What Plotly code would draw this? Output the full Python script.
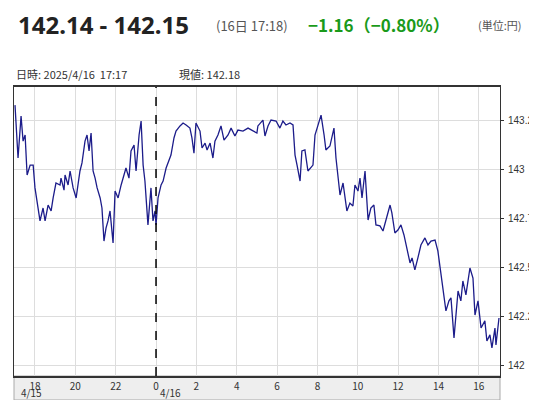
import plotly.graph_objects as go

# hours counted from 4/15 00:00 (24 = 4/16 0:00)
hours = [17.01, 17.16, 17.31, 17.41, 17.51, 17.61, 17.76, 17.91, 18.00, 18.15, 18.25, 18.40, 18.50, 18.65,
         18.80, 18.90, 19.04, 19.24, 19.29, 19.44, 19.49, 19.64, 19.74, 19.89, 20.04, 20.23, 20.33, 20.48,
         20.58, 20.68, 20.78, 20.88, 20.98, 21.08, 21.23, 21.32, 21.42, 21.52, 21.62, 21.72, 21.77, 21.87,
         21.97, 22.12, 22.27, 22.41, 22.51, 22.66, 22.76, 22.91, 23.01, 23.16, 23.26, 23.36, 23.45, 23.60,
         23.75, 23.85, 23.95, 24.00, 24.10, 24.25, 24.35, 24.50, 24.64, 24.74, 24.89, 24.99, 25.19, 25.34,
         25.49, 25.68, 25.78, 25.88, 25.98, 26.18, 26.28, 26.43, 26.53, 26.68, 26.82, 26.92, 27.07, 27.22,
         27.37, 27.57, 27.72, 27.91, 28.06, 28.31, 28.56, 28.81, 29.00, 29.05, 29.30, 29.40, 29.55, 29.70,
         29.95, 30.14, 30.29, 30.44, 30.64, 30.79, 30.89, 30.99, 31.14, 31.23, 31.38, 31.53, 31.68, 31.78,
         31.88, 32.03, 32.18, 32.33, 32.42, 32.62, 32.82, 32.92, 33.02, 33.12, 33.27, 33.37, 33.46, 33.61,
         33.76, 33.86, 34.01, 34.11, 34.21, 34.36, 34.51, 34.65, 34.80, 34.90, 35.10, 35.25, 35.40, 35.60,
         35.69, 35.84, 35.99, 36.14, 36.29, 36.44, 36.59, 36.69, 36.83, 36.98, 37.13, 37.33, 37.48, 37.63,
         37.83, 37.97, 38.12, 38.27, 38.37, 38.52, 38.62, 38.77, 38.87, 38.97, 39.11, 39.21, 39.36, 39.56,
         39.71, 39.81, 39.96, 40.11, 40.30, 40.40, 40.55, 40.65, 40.80, 40.85, 41.00]
prices = [143.326, 143.057, 143.27, 143.143, 143.174, 142.971, 143.021, 143.021, 142.905, 142.788, 142.737,
          142.803, 142.737, 142.818, 142.788, 142.854, 142.930, 142.920, 142.955, 142.894, 142.971, 142.920,
          142.991, 142.905, 142.854, 142.991, 143.032, 143.143, 143.174, 143.093, 143.184, 142.991, 142.955,
          142.905, 142.854, 142.803, 142.635, 142.701, 142.737, 142.788, 142.737, 142.625, 142.889, 142.854,
          142.920, 142.966, 143.006, 142.955, 143.093, 143.123, 142.991, 143.174, 143.245, 143.021, 142.940,
          142.717, 142.905, 142.737, 142.788, 142.717, 142.854, 142.920, 142.940, 143.006, 143.047, 143.072,
          143.159, 143.194, 143.220, 143.235, 143.225, 143.209, 143.159, 143.082, 143.235, 143.194, 143.108,
          143.133, 143.098, 143.133, 143.057, 143.143, 143.174, 143.220, 143.148, 143.174, 143.209, 143.169,
          143.199, 143.194, 143.209, 143.194, 143.184, 143.220, 143.250, 143.169, 143.220, 143.250, 143.245,
          143.209, 143.245, 143.225, 143.235, 143.225, 143.072, 143.021, 142.940, 143.093, 143.098, 142.991,
          143.006, 143.021, 143.174, 143.225, 143.275, 143.174, 143.098, 143.118, 143.209, 143.057, 142.971,
          142.869, 142.930, 142.839, 142.788, 142.828, 142.813, 142.920, 142.889, 142.955, 142.854, 142.991,
          142.742, 142.803, 142.818, 142.717, 142.712, 142.686, 142.737, 142.818, 142.778, 142.676, 142.691,
          142.717, 142.666, 142.585, 142.524, 142.549, 142.488, 142.549, 142.615, 142.651, 142.615, 142.635,
          142.640, 142.585, 142.463, 142.361, 142.280, 142.331, 142.346, 142.143, 142.259, 142.381, 142.331,
          142.432, 142.361, 142.498, 142.447, 142.259, 142.331, 142.193, 142.229, 142.127, 142.158, 142.092,
          142.193, 142.107, 142.244]

x_ticks = [18, 20, 22, 24, 26, 28, 30, 32, 34, 36, 38, 40]
x_labels = ["18", "20", "22", "0", "2", "4", "6", "8", "10", "12", "14", "16"]
y_ticks = [142, 142.25, 142.5, 142.75, 143, 143.25]
y_labels = ["142", "142.25", "142.5", "142.75", "143", "143.25"]

fig = go.Figure(go.Scatter(x=hours, y=prices, mode="lines",
                           line=dict(color="#1c1c8a", width=1.3), hoverinfo="skip"))

fig.update_layout(
    width=537, height=400, margin=dict(l=6, r=45, t=79, b=32),
    paper_bgcolor="white", plot_bgcolor="white", showlegend=False,
    font=dict(family="Noto Sans CJK JP", size=11, color="#333"),
)
fig.update_xaxes(range=[16.96, 41.05], tickvals=x_ticks, ticktext=x_labels,
                 showgrid=True, gridcolor="#dddddd", zeroline=False,
                 showline=True, linecolor="#333", linewidth=1.5, mirror=True,
                 ticks="", ticklabelstandoff=0, tickfont=dict(size=10, color="#333"))
fig.update_yaxes(range=[141.949, 143.418], tickvals=y_ticks, ticktext=y_labels, side="right",
                 showgrid=True, gridcolor="#dddddd", zeroline=False,
                 showline=True, linecolor="#333", linewidth=1, mirror=True,
                 ticks="outside", ticklen=3, tickcolor="#333", ticklabelstandoff=2,
                 tickfont=dict(size=10, color="#333", family="Liberation Sans"))

# gray band under the x axis
fig.add_shape(type="rect", xref="paper", yref="paper", x0=0, x1=1, y0=-0.083, y1=0,
              fillcolor="#eeeeee", line=dict(color="#aaaaaa", width=1), layer="below")
# day boundary
fig.add_shape(type="line", x0=24, x1=24, yref="paper", y0=0, y1=1,
              line=dict(color="black", width=1.5, dash="dash"))

fig.add_annotation(x=17.2, y=-0.083, xref="x", yref="paper", text="4/15", showarrow=False,
                   xanchor="left", yanchor="bottom", yshift=-2, font=dict(size=10, color="#333"))
fig.add_annotation(x=24.1, y=-0.083, xref="x", yref="paper", text="4/16", showarrow=False,
                   xanchor="left", yanchor="bottom", yshift=-2, font=dict(size=10, color="#333"))

paper_y = lambda py: 1 + (79 - py) / 289
fig.add_annotation(x=0, y=paper_y(16), xref="paper", yref="paper", showarrow=False,
                   xanchor="left", yanchor="middle", xshift=2,
                   text="<b>142.14 - 142.15</b>", font=dict(size=24, color="#222", family="Noto Sans"))
fig.add_annotation(x=0, y=paper_y(17), xref="paper", yref="paper", showarrow=False,
                   xanchor="left", yanchor="middle", xshift=200,
                   text="(16日 17:18)", font=dict(size=13, color="#555"))
fig.add_annotation(x=0, y=paper_y(16), xref="paper", yref="paper", showarrow=False,
                   xanchor="left", yanchor="middle", xshift=292,
                   text="<b>−1.16（−0.80%）</b>", font=dict(size=17, color="#1a9a1a"))
fig.add_annotation(x=0, y=paper_y(17), xref="paper", yref="paper", showarrow=False,
                   xanchor="left", yanchor="middle", xshift=462,
                   text="(単位:円)", font=dict(size=11, color="#555"))
fig.add_annotation(x=0, y=paper_y(66), xref="paper", yref="paper", showarrow=False,
                   xanchor="left", yanchor="middle", xshift=0,
                   text="日時: 2025/4/16  17:17", font=dict(size=11, color="#333"))
fig.add_annotation(x=0, y=paper_y(66), xref="paper", yref="paper", showarrow=False,
                   xanchor="left", yanchor="middle", xshift=163,
                   text="現値: 142.18", font=dict(size=11, color="#333"))

fig.write_html("out.html")
